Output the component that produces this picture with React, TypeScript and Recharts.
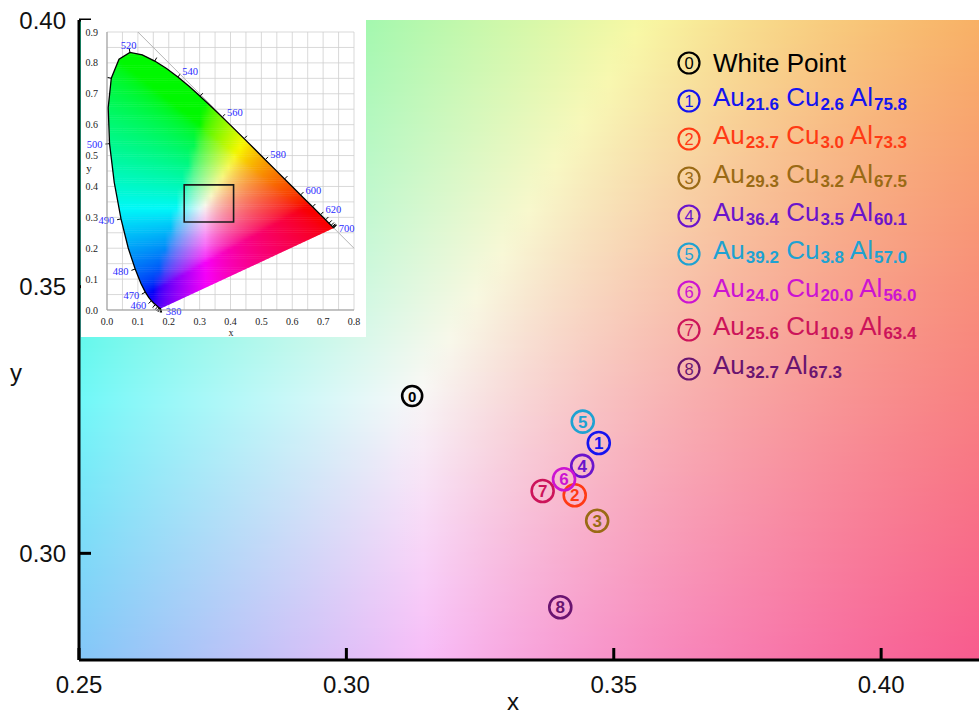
import React from 'react';
import {
  CartesianGrid,
  Label,
  Legend,
  ReferenceArea,
  ReferenceLine,
  Scatter,
  ScatterChart,
  XAxis,
  YAxis,
} from 'recharts';

// main chart axes
const X_DOMAIN: [number, number] = [0.25, 0.4183];
const Y_DOMAIN: [number, number] = [0.28, 0.4];
const X_TICKS = [0.25, 0.3, 0.35, 0.4];
const Y_TICKS = [0.3, 0.35, 0.4];

// samples (chromaticity coordinates)
const SAMPLE_IDS = ['0', '1', '2', '3', '4', '5', '6', '7', '8'];
const SAMPLE_X = [0.3123, 0.3472, 0.3427, 0.3469, 0.3441, 0.3442, 0.3407, 0.3367, 0.34];
const SAMPLE_Y = [0.3295, 0.3207, 0.3109, 0.3061, 0.3164, 0.3247, 0.3139, 0.3117, 0.2899];
const SAMPLE_COLORS = [
  '#000000', '#1414f0', '#ff3a14', '#9a6a14', '#6a14cc',
  '#1ea2d2', '#cc14d2', '#cc145a', '#6a1470',
];
const SAMPLE_ELEMENTS = [
  [], ['Au', 'Cu', 'Al'], ['Au', 'Cu', 'Al'], ['Au', 'Cu', 'Al'], ['Au', 'Cu', 'Al'],
  ['Au', 'Cu', 'Al'], ['Au', 'Cu', 'Al'], ['Au', 'Cu', 'Al'], ['Au', 'Al'],
];
const SAMPLE_FRACTIONS = [
  [], ['21.6', '2.6', '75.8'], ['23.7', '3.0', '73.3'], ['29.3', '3.2', '67.5'],
  ['36.4', '3.5', '60.1'], ['39.2', '3.8', '57.0'], ['24.0', '20.0', '56.0'],
  ['25.6', '10.9', '63.4'], ['32.7', '67.3'],
];
const WHITE_POINT_LABEL = 'White Point';

// inset: CIE 1931 diagram
const INSET_X_DOMAIN: [number, number] = [0, 0.8];
const INSET_Y_DOMAIN: [number, number] = [0, 0.9];
const INSET_X_TICKS = [0, 0.05, 0.1, 0.15, 0.2, 0.25, 0.3, 0.35, 0.4, 0.45, 0.5, 0.55, 0.6, 0.65, 0.7, 0.75, 0.8];
const INSET_Y_TICKS = [0, 0.05, 0.1, 0.15, 0.2, 0.25, 0.3, 0.35, 0.4, 0.45, 0.5, 0.55, 0.6, 0.65, 0.7, 0.75, 0.8, 0.85, 0.9];
const ZOOM_BOX = { x1: 0.25, x2: 0.41, y1: 0.285, y2: 0.405 };
const DIAGONAL = [{ x: 0.1, y: 0.9 }, { x: 0.8, y: 0.2 }];

const LOCUS_NM = [
  380, 385, 390, 395, 400, 405, 410, 415, 420, 425, 430, 435, 440, 445, 450, 455, 460, 465,
  470, 475, 480, 485, 490, 495, 500, 505, 510, 515, 520, 525, 530, 535, 540, 545, 550, 555,
  560, 565, 570, 575, 580, 585, 590, 595, 600, 605, 610, 615, 620, 625, 630, 635, 640, 645,
  650, 655, 660, 665, 670, 675, 680, 685, 690, 695, 700,
];
const LOCUS_X = [
  0.1741, 0.174, 0.1738, 0.1736, 0.1733, 0.173, 0.1726, 0.1721, 0.1714, 0.1703, 0.1689, 0.1669,
  0.1644, 0.1611, 0.1566, 0.151, 0.144, 0.1355, 0.1241, 0.1096, 0.0913, 0.0687, 0.0454, 0.0235,
  0.0082, 0.0039, 0.0139, 0.0389, 0.0743, 0.1142, 0.1547, 0.1929, 0.2296, 0.2658, 0.3016, 0.3373,
  0.3731, 0.4087, 0.4441, 0.4788, 0.5125, 0.5448, 0.5752, 0.6029, 0.627, 0.6482, 0.6658, 0.6801,
  0.6915, 0.7006, 0.7079, 0.714, 0.719, 0.723, 0.726, 0.7283, 0.73, 0.7311, 0.732, 0.7327, 0.7334,
  0.734, 0.7344, 0.7346, 0.7347,
];
const LOCUS_Y = [
  0.005, 0.005, 0.0049, 0.0049, 0.0048, 0.0048, 0.0048, 0.0048, 0.0051, 0.0058, 0.0069, 0.0086,
  0.0109, 0.0138, 0.0177, 0.0227, 0.0297, 0.0399, 0.0578, 0.0868, 0.1327, 0.2007, 0.295, 0.4127,
  0.5384, 0.6548, 0.7502, 0.812, 0.8338, 0.8262, 0.8059, 0.7816, 0.7543, 0.7243, 0.6923, 0.6589,
  0.6245, 0.5896, 0.5547, 0.5202, 0.4866, 0.4544, 0.4242, 0.3965, 0.3725, 0.3514, 0.334, 0.3197,
  0.3083, 0.2993, 0.292, 0.2859, 0.2809, 0.277, 0.274, 0.2717, 0.27, 0.2689, 0.268, 0.2673, 0.2666,
  0.266, 0.2656, 0.2654, 0.2653,
];
const WAVE_LABELS = [380, 460, 470, 480, 490, 500, 520, 540, 560, 580, 600, 620, 700];

const SANS = '"Liberation Sans", Arial, sans-serif';
const SERIF = '"Liberation Serif", "Times New Roman", serif';

const samples = SAMPLE_IDS.map((id, i) => ({
  id,
  x: SAMPLE_X[i],
  y: SAMPLE_Y[i],
  color: SAMPLE_COLORS[i],
}));
const locus = LOCUS_NM.map((nm, i) => ({ nm, x: LOCUS_X[i], y: LOCUS_Y[i] }));

// xy chromaticity -> display colour (normalised to the brightest channel, out-of-gamut clamped)
function chromaColor(x: number, y: number): string {
  const yy = Math.max(y, 0.001);
  const X = x / yy;
  const Z = (1 - x - yy) / yy;
  const r = Math.max(0, 3.2406 * X - 1.5372 - 0.4986 * Z);
  const g = Math.max(0, -0.9689 * X + 1.8758 + 0.0415 * Z);
  const b = Math.max(0, 0.0557 * X - 0.204 + 1.057 * Z);
  const m = Math.max(r, g, b) || 1;
  const enc = (c: number) => {
    const v = Math.pow(c / m, 1.25);
    const s = v <= 0.0031308 ? 12.92 * v : 1.055 * Math.pow(v, 1 / 2.4) - 0.055;
    return Math.round(Math.min(1, Math.max(0, s)) * 248);
  };
  return `rgb(${enc(r)},${enc(g)},${enc(b)})`;
}

function MainBackground(props: any) {
  const { x, y, width, height } = props;
  const rows = 160;
  const cols = 34;
  const rh = height / rows;
  const defs: React.ReactNode[] = [];
  const rects: React.ReactNode[] = [];
  for (let i = 0; i < rows; i++) {
    const vy = Y_DOMAIN[1] - ((i + 0.5) / rows) * (Y_DOMAIN[1] - Y_DOMAIN[0]);
    const stops: React.ReactNode[] = [];
    for (let j = 0; j <= cols; j++) {
      const vx = X_DOMAIN[0] + (j / cols) * (X_DOMAIN[1] - X_DOMAIN[0]);
      stops.push(<stop key={j} offset={j / cols} stopColor={chromaColor(vx, vy)} />);
    }
    defs.push(
      <linearGradient key={i} id={`bg-row-${i}`} x1="0" x2="1" y1="0" y2="0">
        {stops}
      </linearGradient>,
    );
    rects.push(
      <rect key={i} x={x} y={y + i * rh} width={width} height={rh + 0.6} fill={`url(#bg-row-${i})`} />,
    );
  }
  return (
    <g>
      <defs>{defs}</defs>
      {rects}
    </g>
  );
}

function InsetFill(props: any) {
  const { x, y, width, height } = props;
  const px = (v: number) => x + ((v - INSET_X_DOMAIN[0]) / (INSET_X_DOMAIN[1] - INSET_X_DOMAIN[0])) * width;
  const py = (v: number) => y + height - ((v - INSET_Y_DOMAIN[0]) / (INSET_Y_DOMAIN[1] - INSET_Y_DOMAIN[0])) * height;
  const pts = locus.map((p) => [px(p.x), py(p.y)]);
  const poly = pts.map((p) => `${p[0].toFixed(2)},${p[1].toFixed(2)}`).join(' ');

  const rows = 140;
  const cols = 40;
  const yTop = 0.84;
  const xRight = 0.75;
  const rh = (py(0) - py(yTop)) / rows;
  const defs: React.ReactNode[] = [];
  const rects: React.ReactNode[] = [];
  for (let i = 0; i < rows; i++) {
    const vy = yTop - ((i + 0.5) / rows) * yTop;
    const stops: React.ReactNode[] = [];
    for (let j = 0; j <= cols; j++) {
      const vx = (j / cols) * xRight;
      stops.push(<stop key={j} offset={j / cols} stopColor={chromaColor(vx, vy)} />);
    }
    defs.push(
      <linearGradient key={i} id={`in-row-${i}`} x1="0" x2="1" y1="0" y2="0">
        {stops}
      </linearGradient>,
    );
    rects.push(
      <rect
        key={i}
        x={px(0)}
        y={py(yTop) + i * rh}
        width={px(xRight) - px(0)}
        height={rh + 0.5}
        fill={`url(#in-row-${i})`}
      />,
    );
  }

  // outward normal of the locus at a point, in pixels
  const cx0 = px(0.33);
  const cy0 = py(0.33);
  const normalAt = (i: number) => {
    const a = pts[Math.max(i - 1, 0)];
    const b = pts[Math.min(i + 1, pts.length - 1)];
    let nx = b[1] - a[1];
    let ny = -(b[0] - a[0]);
    const l = Math.hypot(nx, ny) || 1;
    nx /= l;
    ny /= l;
    if ((pts[i][0] - cx0) * nx + (pts[i][1] - cy0) * ny < 0) {
      nx = -nx;
      ny = -ny;
    }
    return [nx, ny];
  };

  const ticks: React.ReactNode[] = [];
  const labels: React.ReactNode[] = [];
  locus.forEach((p, i) => {
    const last = i === locus.length - 1;
    if (p.nm % 10 === 0 && i > 0 && !last) {
      const [nx, ny] = normalAt(i);
      ticks.push(
        <line
          key={p.nm}
          x1={pts[i][0]}
          y1={pts[i][1]}
          x2={pts[i][0] + nx * 4}
          y2={pts[i][1] + ny * 4}
          stroke="#000"
          strokeWidth={1}
        />,
      );
    }
    if (WAVE_LABELS.includes(p.nm)) {
      let lx: number;
      let ly: number;
      let anchor: 'start' | 'middle' | 'end';
      if (i === 0 || last) {
        lx = pts[i][0] + 5;
        ly = pts[i][1] + (i === 0 ? 3 : 0);
        anchor = 'start';
      } else {
        const [nx, ny] = normalAt(i);
        lx = pts[i][0] + nx * 7;
        ly = pts[i][1] + ny * 7;
        anchor = nx > 0.5 ? 'start' : nx < -0.5 ? 'end' : 'middle';
      }
      labels.push(
        <text
          key={`l${p.nm}`}
          x={lx}
          y={ly}
          dy="0.35em"
          textAnchor={anchor}
          fontSize={10.5}
          fontFamily={SERIF}
          fill="#2b2bff"
        >
          {p.nm}
        </text>,
      );
    }
  });

  return (
    <g>
      <defs>
        {defs}
        <clipPath id="locus-clip">
          <polygon points={poly} />
        </clipPath>
      </defs>
      <g clipPath="url(#locus-clip)">{rects}</g>
      {ticks}
      {labels}
    </g>
  );
}

function CircledMarker(props: any) {
  const { cx, cy, payload } = props;
  const white = payload.id === '0';
  return (
    <g>
      <circle cx={cx} cy={cy} r={white ? 10 : 11} fill="none" stroke={payload.color} strokeWidth={2.6} />
      <text
        x={cx}
        y={cy + 6}
        textAnchor="middle"
        fontSize={white ? 15 : 17}
        fontWeight="bold"
        fontFamily={SANS}
        fill={payload.color}
      >
        {payload.id}
      </text>
    </g>
  );
}

function MainXTick(props: any) {
  const { x, y, payload } = props;
  return (
    <g>
      <line x1={x} x2={x} y1={y} y2={y - 12} stroke="#000" strokeWidth={3} />
      <text x={x} y={y + 33} textAnchor="middle" fontSize={24} fontFamily={SANS} fill="#111">
        {Number(payload.value).toFixed(2)}
      </text>
    </g>
  );
}

function MainYTick(props: any) {
  const { x, y, payload } = props;
  return (
    <g>
      <line x1={x} x2={x + 12} y1={y} y2={y} stroke="#000" strokeWidth={3} />
      <text x={x - 13} y={y + 8.5} textAnchor="end" fontSize={24} fontFamily={SANS} fill="#111">
        {Number(payload.value).toFixed(2)}
      </text>
    </g>
  );
}

function LegendBox() {
  return (
    <div style={{ fontFamily: SANS }}>
      {samples.map((s, i) => (
        <div key={s.id} style={{ display: 'flex', alignItems: 'center', height: 38.2, whiteSpace: 'nowrap' }}>
          <svg width={26} height={26} style={{ marginRight: 11, flex: 'none' }}>
            <circle cx={13} cy={13} r={10.5} fill="none" stroke={s.color} strokeWidth={2.2} />
            <text x={13} y={19} textAnchor="middle" fontSize={16.5} fontFamily={SANS} fill={s.color}>
              {s.id}
            </text>
          </svg>
          <span style={{ fontSize: 26, color: s.color, lineHeight: '30px' }}>
            {i === 0
              ? WHITE_POINT_LABEL
              : SAMPLE_ELEMENTS[i].map((el, k) => (
                  <React.Fragment key={el}>
                    {k > 0 ? ' ' : ''}
                    {el}
                    <span style={{ fontSize: 17, fontWeight: 'bold', verticalAlign: '-4px', marginLeft: 1 }}>
                      {SAMPLE_FRACTIONS[i][k]}
                    </span>
                  </React.Fragment>
                ))}
          </span>
        </div>
      ))}
    </div>
  );
}

const insetTickFormat = (v: number) =>
  Math.abs(v * 10 - Math.round(v * 10)) < 1e-6 ? v.toFixed(1) : '';

function Inset() {
  return (
    <ScatterChart width={285} height={317} margin={{ top: 12, right: 12, bottom: 0, left: 0 }}>
      <CartesianGrid stroke="#cfcfcf" strokeWidth={0.8} />
      <XAxis
        type="number"
        dataKey="x"
        domain={INSET_X_DOMAIN}
        ticks={INSET_X_TICKS}
        interval={0}
        allowDataOverflow
        height={27}
        tickLine={false}
        tickMargin={2}
        axisLine={{ stroke: '#999' }}
        tickFormatter={insetTickFormat}
        tick={{ fontSize: 10, fontFamily: SERIF, fill: '#222' }}
      >
        <Label
          content={({ viewBox }: any) => (
            <text x={viewBox.x + 124} y={viewBox.y + 26} textAnchor="middle" fontSize={10} fontFamily={SERIF} fill="#222">
              x
            </text>
          )}
        />
      </XAxis>
      <YAxis
        type="number"
        dataKey="y"
        domain={INSET_Y_DOMAIN}
        ticks={INSET_Y_TICKS}
        interval={0}
        allowDataOverflow
        width={26}
        tickLine={false}
        tickMargin={3}
        axisLine={{ stroke: '#999' }}
        tickFormatter={insetTickFormat}
        tick={{ fontSize: 10, fontFamily: SERIF, fill: '#222' }}
      >
        <Label
          content={({ viewBox }: any) => (
            <text x={viewBox.x + 8} y={viewBox.y + 140} textAnchor="middle" fontSize={11} fontFamily={SERIF} fill="#222">
              y
            </text>
          )}
        />
      </YAxis>
      <ReferenceLine segment={DIAGONAL} stroke="#b4b4b4" strokeWidth={1} />
      <ReferenceArea
        x1={INSET_X_DOMAIN[0]}
        x2={INSET_X_DOMAIN[1]}
        y1={INSET_Y_DOMAIN[0]}
        y2={INSET_Y_DOMAIN[1]}
        shape={InsetFill}
      />
      <ReferenceArea
        x1={ZOOM_BOX.x1}
        x2={ZOOM_BOX.x2}
        y1={ZOOM_BOX.y1}
        y2={ZOOM_BOX.y2}
        fill="none"
        fillOpacity={0}
        stroke="#1a1a1a"
        strokeWidth={1.6}
      />
      <Scatter
        data={locus}
        isAnimationActive={false}
        fill="#000"
        line={{ stroke: '#000', strokeWidth: 1.3 }}
        shape={() => <g />}
      />
    </ScatterChart>
  );
}

export default function App() {
  return (
    <div style={{ position: 'absolute', left: 0, top: 0, width: 979, height: 714, background: '#fff', fontFamily: SANS }}>
      <ScatterChart width={979} height={714} margin={{ top: 20, right: 0, bottom: 0, left: 0 }}>
        <ReferenceArea
          x1={X_DOMAIN[0]}
          x2={X_DOMAIN[1]}
          y1={Y_DOMAIN[0]}
          y2={Y_DOMAIN[1]}
          shape={MainBackground}
        />
        <XAxis
          type="number"
          dataKey="x"
          domain={X_DOMAIN}
          ticks={X_TICKS}
          allowDataOverflow
          height={54}
          tickSize={0}
          tickMargin={0}
          axisLine={{ stroke: '#000', strokeWidth: 3 }}
          tick={MainXTick}
        >
          <Label
            content={({ viewBox }: any) => (
              <text x={viewBox.x + viewBox.width / 2 - 16} y={viewBox.y + 50} textAnchor="middle" fontSize={24} fontFamily={SANS} fill="#111">
                x
              </text>
            )}
          />
        </XAxis>
        <YAxis
          type="number"
          dataKey="y"
          domain={Y_DOMAIN}
          ticks={Y_TICKS}
          allowDataOverflow
          width={79}
          tickSize={0}
          tickMargin={0}
          axisLine={{ stroke: '#000', strokeWidth: 3 }}
          tick={MainYTick}
        >
          <Label
            content={({ viewBox }: any) => (
              <text x={16} y={viewBox.y + viewBox.height / 2 + 41} textAnchor="middle" fontSize={24} fontFamily={SANS} fill="#111">
                y
              </text>
            )}
          />
        </YAxis>
        <Legend
          layout="vertical"
          align="center"
          verticalAlign="middle"
          wrapperStyle={{ left: 676, top: 44, width: 300 }}
          content={() => <LegendBox />}
        />
        <Scatter data={samples} isAnimationActive={false} shape={CircledMarker} />
      </ScatterChart>
      <div style={{ position: 'absolute', left: 81, top: 20, width: 285, height: 317, background: '#fff' }}>
        <Inset />
      </div>
    </div>
  );
}
